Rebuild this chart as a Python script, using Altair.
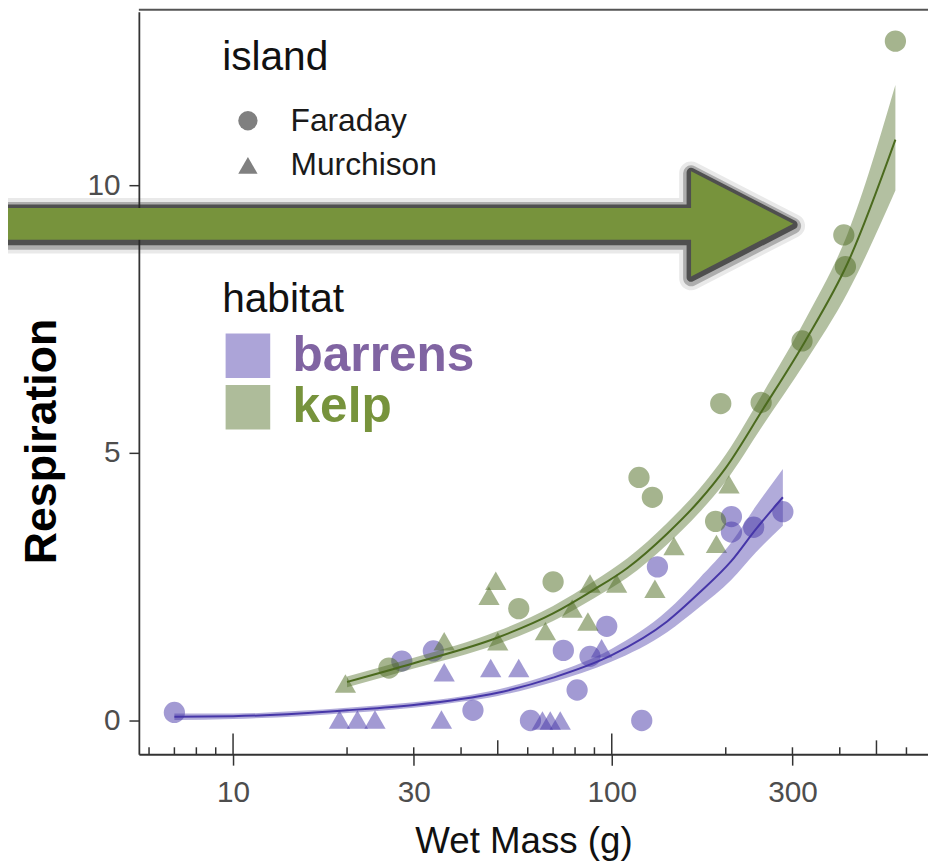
import altair as alt
import pandas as pd

# ---------------- data ----------------
habitats = ['barrens', 'kelp']
islands = ['Faraday', 'Murchison']
habitat_colors = ['#4636A8', '#4B6A1E']
island_shapes = ['circle', 'triangle-up']

barrens_faraday_mass = [7.0, 27.9, 33.8, 43, 61, 74.5, 81, 87.6, 97, 120, 132, 207, 207, 237, 283]
barrens_faraday_resp = [0.15, 1.11, 1.30, 0.19, 0.0, 1.31, 0.57, 1.20, 1.76, 0.0, 2.87, 3.81, 3.52, 3.61, 3.90]
barrens_murchison_mass = [19.1, 21.3, 23.7, 35.5, 36.1, 47.9, 56.8, 65.6, 68.8, 73.1, 94]
barrens_murchison_resp = [0.02, 0.02, 0.02, 0.02, 0.90, 0.98, 0.98, 0.0, 0.0, 0.0, 1.35]
kelp_faraday_mass = [25.8, 56.8, 70, 118, 128, 188, 194, 248, 318, 410, 414, 561]
kelp_faraday_resp = [0.98, 2.09, 2.59, 4.54, 4.17, 3.72, 5.92, 5.94, 7.09, 9.07, 8.48, 12.69]
kelp_murchison_mass = [19.8, 36.1, 47.4, 49.4, 50, 66.8, 78.6, 86.5, 87.6, 103, 130, 146, 189, 204]
kelp_murchison_resp = [0.69, 1.48, 2.33, 2.61, 1.48, 1.67, 2.09, 1.85, 2.56, 2.56, 2.46, 3.26, 3.30, 4.41]

barrens_fit_mass = [7, 10, 15, 20, 30, 40, 50, 70, 100, 140, 170, 207, 240, 283]
barrens_fit_resp = [0.07, 0.08, 0.13, 0.19, 0.29, 0.40, 0.52, 0.80, 1.22, 1.85, 2.38, 2.98, 3.57, 4.17]
barrens_fit_lo = [0.01, 0.03, 0.08, 0.14, 0.24, 0.35, 0.46, 0.72, 1.10, 1.65, 2.11, 2.63, 3.14, 3.64]
barrens_fit_hi = [0.13, 0.13, 0.18, 0.24, 0.34, 0.45, 0.58, 0.88, 1.34, 2.05, 2.65, 3.33, 4.00, 4.70]

kelp_fit_mass = [20, 30, 50, 70, 90, 110, 140, 170, 200, 250, 325, 420, 561]
kelp_fit_resp = [0.72, 1.07, 1.55, 2.00, 2.45, 2.85, 3.49, 4.10, 4.72, 5.80, 7.10, 8.55, 10.85]
kelp_fit_lo = [0.62, 0.97, 1.43, 1.86, 2.29, 2.67, 3.29, 3.88, 4.47, 5.50, 6.70, 8.00, 9.90]
kelp_fit_hi = [0.82, 1.17, 1.67, 2.14, 2.61, 3.03, 3.69, 4.32, 4.97, 6.10, 7.50, 9.10, 11.87]

x_tick_values = [10, 30, 100, 300]
y_tick_values = [0, 5, 10]
logticks_short = [6, 7, 8, 9, 20, 30, 40, 60, 70, 80, 90, 200, 300, 400, 600]
logticks_mid = [50, 500]
logticks_long = [10, 100]

# ---------------- tables ----------------
def pts(m, r, hab, isl):
    return pd.DataFrame({'mass': m, 'resp': r, 'habitat': hab, 'island': isl})

points = pd.concat([
    pts(barrens_faraday_mass, barrens_faraday_resp, 'barrens', 'Faraday'),
    pts(barrens_murchison_mass, barrens_murchison_resp, 'barrens', 'Murchison'),
    pts(kelp_faraday_mass, kelp_faraday_resp, 'kelp', 'Faraday'),
    pts(kelp_murchison_mass, kelp_murchison_resp, 'kelp', 'Murchison'),
], ignore_index=True)

fits = pd.concat([
    pd.DataFrame({'mass': barrens_fit_mass, 'resp': barrens_fit_resp, 'lo': barrens_fit_lo,
                  'hi': barrens_fit_hi, 'habitat': 'barrens'}),
    pd.DataFrame({'mass': kelp_fit_mass, 'resp': kelp_fit_resp, 'lo': kelp_fit_lo,
                  'hi': kelp_fit_hi, 'habitat': 'kelp'}),
], ignore_index=True)

W, H = 796, 749
FONT = 'Liberation Sans'

xscale = alt.Scale(type='log', domain=[5.64, 684], nice=False)
yscale = alt.Scale(domain=[-0.63, 13.24], nice=False, zero=False)

xaxis = alt.Axis(values=x_tick_values, format='d', title='Wet Mass (g)', grid=False,
                 tickSize=11, tickWidth=1.5, tickColor='#333333',
                 domainColor='#333333', domainWidth=1.8,
                 labelFontSize=30, labelColor='#4d4d4d', labelPadding=13, labelFlush=False,
                 labelOverlap=False,
                 titleFontSize=37, titleFontWeight='normal', titleColor='#111111',
                 titleX=388, titleY=99, titleBaseline='alphabetic', titleAlign='center')
yaxis = alt.Axis(values=y_tick_values, title='Respiration', grid=False,
                 tickSize=10, tickWidth=1.5, tickColor='#333333',
                 domainColor='#333333', domainWidth=1.8,
                 labelFontSize=30, labelColor='#4d4d4d', labelPadding=9,
                 titleFontSize=45, titleFontWeight='bold', titleColor='#000000',
                 titleAngle=270, titleX=-84, titleY=433, titleBaseline='alphabetic',
                 titleAlign='center')

color_legend = alt.Legend(
    title='habitat', orient='none', legendX=84, legendY=271, padding=0,
    symbolType='square', symbolSize=2025, symbolOpacity=0.45, symbolStrokeWidth=0,
    symbolOffset=1, labelOffset=20, rowPadding=2, labelLimit=500,
    labelFontSize=50, labelFontWeight='bold', labelFont=FONT,
    labelColor=alt.ExprRef(expr="datum.value == 'barrens' ? '#8064A2' : '#77933C'"),
    titleFontSize=41, titleFontWeight='normal', titleColor='#111111', titlePadding=10)

shape_legend = alt.Legend(
    title='island', orient='none', legendX=84, legendY=27, padding=0,
    symbolSize=380, symbolFillColor='#808080', symbolStrokeColor='#808080',
    symbolStrokeWidth=0, symbolOpacity=1, symbolOffset=10, labelOffset=27, rowPadding=13,
    labelFontSize=32, labelColor='#1a1a1a', labelLimit=400,
    titleFontSize=41, titleFontWeight='normal', titleColor='#111111', titlePadding=26)

color_enc = alt.Color('habitat:N', scale=alt.Scale(domain=habitats, range=habitat_colors),
                      legend=color_legend)

pts_layer = alt.Chart(points).mark_point(filled=True, opacity=0.5, size=460, strokeWidth=0).encode(
    x=alt.X('mass:Q', scale=xscale, axis=xaxis),
    y=alt.Y('resp:Q', scale=yscale, axis=yaxis),
    color=color_enc,
    shape=alt.Shape('island:N', scale=alt.Scale(domain=islands, range=island_shapes),
                    legend=shape_legend),
)

band_layer = alt.Chart(fits).mark_area(opacity=0.42, interpolate='monotone').encode(
    x=alt.X('mass:Q', scale=xscale, axis=xaxis),
    y=alt.Y('lo:Q', scale=yscale, axis=yaxis),
    y2='hi:Q',
    color=color_enc,
    detail='habitat:N',
)

line_layer = alt.Chart(fits).mark_line(strokeWidth=2, interpolate='monotone').encode(
    x=alt.X('mass:Q', scale=xscale, axis=xaxis),
    y=alt.Y('resp:Q', scale=yscale, axis=yaxis),
    color=color_enc,
)

def logtick_layer(vals, length):
    return alt.Chart(pd.DataFrame({'mass': vals})).mark_rule(color='#333333', strokeWidth=1.5).encode(
        x=alt.X('mass:Q', scale=xscale, axis=xaxis),
        y=alt.value(H - length),
        y2=alt.value(H),
    )

ticks = logtick_layer(logticks_short, 7) + logtick_layer(logticks_mid, 14) + logtick_layer(logticks_long, 21)

one = pd.DataFrame({'k': [0]})
top_border = alt.Chart(one).mark_rule(color='#555555', strokeWidth=2).encode(
    x=alt.value(0), x2=alt.value(W), y=alt.value(-2))

ARROW = 'M -8 -0.32 L 5.94 -0.32 L 5.94 -1.06 L 8 0 L 5.94 1.06 L 5.94 0.32 L -8 0.32 Z'

def arrow_shadow(width, op, dy=0):
    return alt.Chart(one).mark_point(shape=ARROW, size=10000, filled=False, stroke='#262626',
                                     strokeWidth=width, strokeOpacity=op, opacity=1,
                                     strokeJoin='round').encode(
        x=alt.value(260), y=alt.value(214 + dy))

arrow = alt.Chart(one).mark_point(shape=ARROW, size=10000, filled=True, fill='#77933C',
                                  opacity=1, strokeWidth=0).encode(
    x=alt.value(260), y=alt.value(214))

chart = alt.layer(
    pts_layer, band_layer, line_layer, ticks, top_border,
    arrow_shadow(24, 0.10, 2), arrow_shadow(16, 0.3, 2), arrow_shadow(9, 0.7, 1), arrow,
).properties(
    width=W, height=H,
    autosize=alt.AutoSizeParams(type='none'),
    padding={'left': 132, 'top': 0, 'right': 0, 'bottom': 108},
).configure(font=FONT).configure_view(stroke=None)

chart.save('out.html', embed_options={'renderer': 'svg', 'actions': False})
